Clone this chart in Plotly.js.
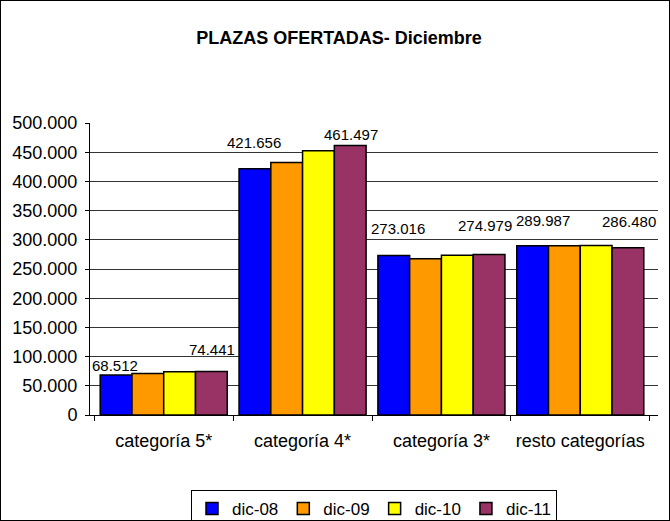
<!DOCTYPE html>
<html>
<head>
<meta charset="utf-8">
<script src="https://cdn.plot.ly/plotly-3.0.1.min.js"></script>
<style>
  html, body { margin: 0; padding: 0; background: #fff; }
  #chart { width: 670px; height: 521px; border: 1px solid #000; box-sizing: border-box; }
</style>
</head>
<body>
<div id="chart"></div>
<script>
// ---- data ----
const categories = ["categoría 5*", "categoría 4*", "categoría 3*", "resto categorías"];
const seriesNames = ["dic-08", "dic-09", "dic-10", "dic-11"];
const dic08 = [68512, 421656, 273016, 289987];
const dic09 = [71000, 432500, 267500, 289800];
const dic10 = [74000, 452500, 273500, 290200];
const dic11 = [74441, 461497, 274979, 286480];
const yTickMax = 500000;
const yTickStep = 50000;

// ---- styles ----
const colors = ["#0000FF", "#FF9900", "#FFFF00", "#993366"];
const FONT = "Liberation Sans, Arial, sans-serif";
const W = 668, H = 519;
const margin = {l: 89, r: 11, t: 122, b: 105, autoexpand: false};
const bargap = 0.085;
// label vertical offsets (px above bar top) and small horizontal nudges
const firstLabelShiftY = [9, 26, 27, 25];
const lastLabelShiftY = [22, 11, 29, 26];
const firstLabelNudgeX = [0, 0, 5, 11];
const lastLabelNudgeX = [0, 0, -5, 0];

function fmt(n) {
  return String(Math.round(n)).replace(/\B(?=(\d{3})+(?!\d))/g, ".");
}

const allSeries = [dic08, dic09, dic10, dic11];
const traces = allSeries.map((vals, i) => ({
  type: "bar",
  name: seriesNames[i],
  x: categories,
  y: vals,
  marker: {color: colors[i], line: {color: "#000", width: 1.5}},
  hoverinfo: "x+y+name"
}));

const plotW = W - margin.l - margin.r;
const plotH = H - margin.t - margin.b;
const catW = plotW / categories.length;
const barW = catW * (1 - bargap) / allSeries.length;
const offFirst = -1.5 * barW;
const offLast = 1.5 * barW;

const annotations = [];
categories.forEach((c, j) => {
  annotations.push({
    x: c, y: dic08[j], xref: "x", yref: "y",
    text: fmt(dic08[j]), showarrow: false,
    xshift: offFirst + firstLabelNudgeX[j], yshift: firstLabelShiftY[j],
    yanchor: "middle", xanchor: "center",
    font: {family: FONT, size: 15, color: "#000"}
  });
  annotations.push({
    x: c, y: dic11[j], xref: "x", yref: "y",
    text: fmt(dic11[j]), showarrow: false,
    xshift: offLast + lastLabelNudgeX[j], yshift: lastLabelShiftY[j],
    yanchor: "middle", xanchor: "center",
    font: {family: FONT, size: 15, color: "#000"}
  });
});

const layout = {
  width: W, height: H,
  margin: margin,
  paper_bgcolor: "#fff",
  plot_bgcolor: "#fff",
  separators: ",.",
  font: {family: FONT, color: "#000"},
  title: {
    text: "<b>PLAZAS OFERTADAS- Diciembre</b>",
    font: {family: FONT, size: 18, color: "#000"},
    x: 338 / W, xref: "container", xanchor: "center",
    y: 1 - 37 / H, yref: "container", yanchor: "middle"
  },
  barmode: "group",
  bargap: bargap,
  bargroupgap: 0,
  showlegend: true,
  legend: {
    orientation: "h",
    x: 0.5, xanchor: "center",
    y: -(489 - 414) / plotH, yanchor: "top",
    bordercolor: "#000", borderwidth: 1, bgcolor: "#fff",
    font: {family: FONT, size: 17, color: "#000"},
    itemclick: false, itemdoubleclick: false
  },
  xaxis: {
    type: "category",
    tickson: "boundaries",
    ticks: "outside", ticklen: 5, tickcolor: "#000", tickwidth: 1,
    showline: true, linecolor: "#000", linewidth: 1,
    showgrid: false, zeroline: false,
    tickfont: {family: FONT, size: 18, color: "#000"},
    ticklabelstandoff: 9,
    fixedrange: true
  },
  yaxis: {
    range: [0, yTickMax],
    dtick: yTickStep, tick0: 0,
    tickformat: ",d",
    ticks: "outside", ticklen: 4, tickcolor: "#000", tickwidth: 1,
    showline: true, linecolor: "#000", linewidth: 1,
    showgrid: true, gridcolor: "#333", gridwidth: 1,
    zeroline: false,
    tickfont: {family: FONT, size: 18, color: "#000"},
    ticklabelstandoff: 4,
    fixedrange: true
  },
  annotations: annotations
};

Plotly.newPlot("chart", traces, layout, {displayModeBar: false});
</script>
</body>
</html>
